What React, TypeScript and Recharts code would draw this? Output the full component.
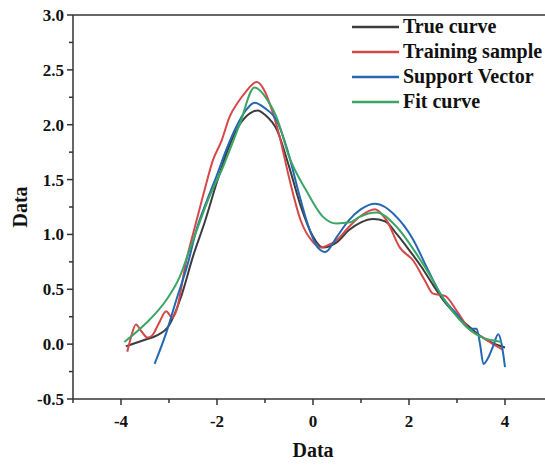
import { LineChart, Line, XAxis, YAxis, ReferenceLine } from "recharts";

// values
const trueX = [-3.9, -3.5, -3.25, -3.0, -2.75, -2.5, -2.25, -2.0, -1.75, -1.5, -1.25, -1.15, -1.0, -0.75, -0.5, -0.25, 0, 0.2, 0.5, 0.75, 1.0, 1.25, 1.5, 1.75, 2.0, 2.25, 2.5, 2.75, 3.0, 3.25, 3.5, 3.75, 4.0];
const trueY = [-0.02, 0.04, 0.08, 0.17, 0.43, 0.8, 1.12, 1.48, 1.8, 2.02, 2.12, 2.13, 2.09, 1.95, 1.62, 1.25, 0.98, 0.88, 0.93, 1.04, 1.11, 1.14, 1.12, 1.0, 0.86, 0.71, 0.54, 0.38, 0.26, 0.16, 0.07, 0.01, -0.03];

const sampleX = [-3.87, -3.8, -3.69, -3.58, -3.45, -3.35, -3.2, -3.06, -2.93, -2.85, -2.64, -2.43, -2.25, -2.09, -1.9, -1.74, -1.57, -1.4, -1.17, -1.0, -0.9, -0.7, -0.5, -0.25, 0, 0.15, 0.3, 0.5, 0.75, 1.0, 1.29, 1.53, 1.81, 2.09, 2.33, 2.5, 2.75, 3.0, 3.27, 3.5, 3.75, 3.95];
const sampleY = [-0.07, 0.05, 0.18, 0.12, 0.06, 0.08, 0.2, 0.3, 0.24, 0.3, 0.76, 1.12, 1.42, 1.67, 1.86, 2.07, 2.2, 2.3, 2.39, 2.3, 2.19, 1.9, 1.52, 1.12, 0.93, 0.88, 0.9, 0.95, 1.07, 1.17, 1.23, 1.13, 0.88, 0.76, 0.58, 0.46, 0.44, 0.3, 0.13, 0.07, 0.0, -0.05];

const svX = [-3.3, -3.06, -2.85, -2.61, -2.43, -2.2, -2.02, -1.8, -1.6, -1.4, -1.22, -1.0, -0.76, -0.5, -0.31, -0.1, 0.1, 0.26, 0.5, 0.75, 1.0, 1.29, 1.5, 1.67, 2.09, 2.37, 2.65, 3.0, 3.27, 3.41, 3.48, 3.55, 3.63, 3.75, 3.86, 3.93, 4.0];
const svY = [-0.18, 0.1, 0.4, 0.73, 1.04, 1.32, 1.52, 1.78, 1.98, 2.13, 2.2, 2.15, 2.04, 1.72, 1.4, 1.08, 0.88, 0.84, 0.98, 1.13, 1.23, 1.28, 1.25, 1.19, 0.95, 0.7, 0.46, 0.27, 0.14, 0.14, 0.0, -0.18, -0.14, -0.02, 0.09, 0.0, -0.21];

const fitX = [-3.93, -3.48, -3.06, -2.78, -2.58, -2.47, -2.2, -1.88, -1.53, -1.22, -0.9, -0.76, -0.49, -0.14, 0.21, 0.49, 0.77, 0.97, 1.32, 1.74, 2.16, 2.5, 2.64, 3.06, 3.48, 3.93];
const fitY = [0.02, 0.19, 0.4, 0.61, 0.85, 0.98, 1.3, 1.61, 2.0, 2.34, 2.19, 2.07, 1.7, 1.4, 1.16, 1.1, 1.11, 1.16, 1.2, 1.07, 0.82, 0.58, 0.47, 0.22, 0.07, 0.02];

const seriesNames = ["True curve", "Training sample", "Support Vector", "Fit curve"];
const seriesColors = ["#3c3c3c", "#d64848", "#2468b2", "#3aa564"];

const xTicks = [-5, -4, -3, -2, -1, 0, 1, 2, 3, 4, 5];
const yTicks = [-0.5, -0.25, 0, 0.25, 0.5, 0.75, 1, 1.25, 1.5, 1.75, 2, 2.25, 2.5, 2.75, 3];

const zip = (xs: number[], ys: number[]) => xs.map((x, i) => ({ x, y: ys[i] }));
const lines = [zip(trueX, trueY), zip(sampleX, sampleY), zip(svX, svY), zip(fitX, fitY)];

const FONT = '"Liberation Serif", "Times New Roman", serif';
const AXIS = "#333";

function XTick({ x, y, payload }: any) {
  const major = payload.value % 2 === 0;
  return (
    <g>
      <line x1={x} x2={x} y1={y} y2={y + (major ? 6 : 4)} stroke={AXIS} strokeWidth={1.5} />
      {major && (
        <text x={x} y={y + 28} textAnchor="middle" style={{ fontFamily: FONT }} fontWeight="bold" fontSize={17} fill="#111">
          {payload.value}
        </text>
      )}
    </g>
  );
}

function YTick({ x, y, payload }: any) {
  const major = Math.abs((payload.value * 2) % 1) < 1e-6;
  return (
    <g>
      <line x1={x - (major ? 6 : 4)} x2={x} y1={y} y2={y} stroke={AXIS} strokeWidth={1.5} />
      {major && (
        <text x={x - 9} y={y + 6} textAnchor="end" style={{ fontFamily: FONT }} fontWeight="bold" fontSize={17} fill="#111">
          {payload.value.toFixed(1)}
        </text>
      )}
    </g>
  );
}

function LegendBox() {
  return (
    <div style={{ position: "absolute", top: 14, left: 352, fontFamily: FONT, fontWeight: "bold", fontSize: 20, color: "#111" }}>
      {seriesNames.map((n, i) => (
        <div key={n} style={{ display: "flex", alignItems: "center", height: 25, whiteSpace: "nowrap" }}>
          <svg width={47} height={4} style={{ marginRight: 4 }}>
            <line x1={0} x2={47} y1={2} y2={2} stroke={seriesColors[i]} strokeWidth={2.5} />
          </svg>
          <span>{n}</span>
        </div>
      ))}
    </div>
  );
}

export default function App() {
  return (
    <div style={{ position: "absolute", left: 0, top: 0, width: 545, height: 465, overflow: "hidden", background: "#fff" }}>
      <LineChart width={563} height={465} margin={{ top: 15, right: 10, left: 0, bottom: 0 }}>
        <XAxis
          dataKey="x"
          type="number"
          domain={[-5, 5]}
          ticks={xTicks}
          interval={0}
          tickSize={0}
          tickMargin={0}
          tickLine={false}
          tick={<XTick />}
          height={66}
          axisLine={{ stroke: AXIS, strokeWidth: 1.5 }}
          label={{
            content: ({ viewBox }: any) => (
              <text x={viewBox.x + viewBox.width / 2} y={viewBox.y + viewBox.height - 8} textAnchor="middle" style={{ fontFamily: FONT }} fontWeight="bold" fontSize={20} fill="#111">
                Data
              </text>
            ),
          }}
        />
        <YAxis
          type="number"
          domain={[-0.5, 3]}
          ticks={yTicks}
          interval={0}
          tickSize={0}
          tickMargin={0}
          tickLine={false}
          tick={<YTick />}
          width={73}
          axisLine={{ stroke: AXIS, strokeWidth: 1.5 }}
          label={{
            content: ({ viewBox }: any) => (
              <text
                transform={`translate(${viewBox.x + 20},${viewBox.y + viewBox.height / 2}) rotate(-90)`}
                textAnchor="middle"
                dominantBaseline="central"
                style={{ fontFamily: FONT }}
                fontWeight="bold"
                fontSize={20}
                fill="#111"
              >
                Data
              </text>
            ),
          }}
        />
        <ReferenceLine y={3} stroke={AXIS} strokeWidth={1.5} />
        <ReferenceLine x={5} stroke={AXIS} strokeWidth={1.5} />
        {lines.map((d, i) => (
          <Line
            key={seriesNames[i]}
            data={d}
            dataKey="y"
            name={seriesNames[i]}
            type="monotone"
            stroke={seriesColors[i]}
            strokeWidth={2}
            dot={false}
            isAnimationActive={false}
          />
        ))}
      </LineChart>
      <LegendBox />
    </div>
  );
}
